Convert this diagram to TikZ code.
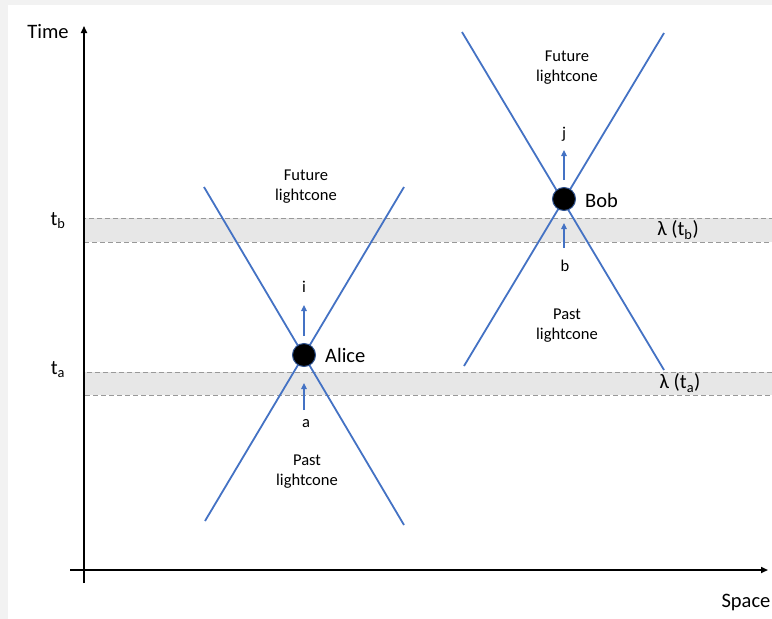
\documentclass[tikz,border=0pt]{standalone}
\usepackage{fontspec}
\setmainfont{Carlito}
\usetikzlibrary{arrows.meta}
\definecolor{coneblue}{HTML}{4472C4}
\definecolor{dotedge}{HTML}{2F528F}
\definecolor{bandfill}{HTML}{E7E7E7}
\definecolor{banddash}{HTML}{999999}
\definecolor{frame}{HTML}{F2F2F2}
\tikzset{
  cone/.style={draw=coneblue, line width=1.8pt},
  axis/.style={draw=black, line width=1.6pt, -{Triangle[length=7pt,width=6pt]}},
  flow/.style={draw=coneblue, line width=1.1pt, -{Triangle[length=6pt,width=5.5pt]}},
  band/.style={fill=bandfill, draw=banddash, line width=1pt, dash pattern=on 5pt off 3pt},
  agent/.style={circle, fill=black, draw=dotedge, line width=1pt, minimum size=23pt, inner sep=0pt},
  big/.style={font=\fontsize{20.5}{24}\selectfont, inner sep=0pt},
  small/.style={font=\fontsize{16.5}{20}\selectfont, inner sep=0pt, align=center},
}
\begin{document}
\begin{tikzpicture}[x=1pt, y=-1pt]
\useasboundingbox (0,0) rectangle (772,619);
\fill[frame] (0,0) rectangle (772,619);
\fill[white] (8,5) rectangle (772,619);
% bands
\path[band] (84,218) rectangle (773,242);
\path[band] (84,372) rectangle (773,395);
% axes
\coordinate (yb) at (84,583);
\coordinate (yt) at (84,26);
\coordinate (xl) at (70,570);
\coordinate (xr) at (768,570);
\draw[axis] (yb) -- (yt);
\draw[axis] (xl) -- (xr);
\node[big] (time) at (48,32) {Time};
\node[big] (space) at (746,602) {Space};
\node[big] (tb) at (58,221) {t\textsubscript{b}};
\node[big] (ta) at (58,370) {t\textsubscript{a}};
\node[big] (lb) at (678,230) {λ (t\textsubscript{b})};
\node[big] (la) at (680,383) {λ (t\textsubscript{a})};
% Alice cone
\coordinate (a1) at (204,187);
\coordinate (a2) at (404,525);
\coordinate (a3) at (404,187);
\coordinate (a4) at (205,521);
\draw[cone] (a1) -- (a2);
\draw[cone] (a3) -- (a4);
% Bob cone
\coordinate (b1) at (462,32);
\coordinate (b2) at (664,370);
\coordinate (b3) at (664,33);
\coordinate (b4) at (464,366);
\draw[cone] (b1) -- (b2);
\draw[cone] (b3) -- (b4);
% agents
\node[agent] (alice) at (304,355) {};
\node[agent] (bob) at (564,199) {};
\node[big, anchor=west] (alicel) at (325,355) {Alice};
\node[big, anchor=west] (bobl) at (585,200) {Bob};
% Alice arrows
\coordinate (ai0) at (304,336);
\coordinate (ai1) at (304,305);
\draw[flow] (ai0) -- (ai1);
\node[small] (il) at (304,287) {i};
\coordinate (aa0) at (304,410);
\coordinate (aa1) at (304,383);
\draw[flow] (aa0) -- (aa1);
\node[small] (al) at (306,424) {a};
% Bob arrows
\coordinate (bj0) at (564,180);
\coordinate (bj1) at (564,150);
\draw[flow] (bj0) -- (bj1);
\node[small] (jl) at (564,134) {j};
\coordinate (bb0) at (564,248);
\coordinate (bb1) at (564,223);
\draw[flow] (bb0) -- (bb1);
\node[small] (bl) at (565,266) {b};
% lightcone labels
\node[small] (af) at (306,187) {Future\\lightcone};
\node[small] (ap) at (307,472) {Past\\lightcone};
\node[small] (bf) at (567,68) {Future\\lightcone};
\node[small] (bp) at (567,326) {Past\\lightcone};
\end{tikzpicture}
\end{document}
